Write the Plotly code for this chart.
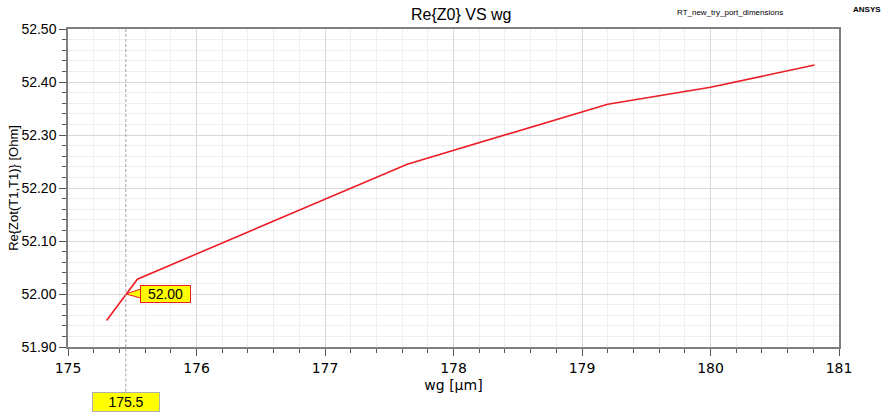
import plotly.graph_objects as go

wg = [175.30, 175.45, 175.54, 177.64, 179.20, 180.00, 180.81]
re_z0 = [51.950, 52.000, 52.028, 52.245, 52.358, 52.390, 52.432]

cursor_x = 175.45
cursor_y = 52.00

fig = go.Figure()
fig.add_trace(go.Scatter(x=wg, y=re_z0, mode="lines",
                         line=dict(color="#ee1c24", width=1.6),
                         hoverinfo="skip", showlegend=False))

# cursor vertical dashed line
fig.add_shape(type="line", xref="x", yref="paper", x0=cursor_x, x1=cursor_x,
              y0=0, y1=1, line=dict(color="#a0a0a0", width=1, dash="3px,2px"))
fig.add_shape(type="line", xref="x", yref="paper", x0=cursor_x, x1=cursor_x,
              y0=-0.14, y1=0, line=dict(color="#a0a0a0", width=1, dash="3px,2px"))

# callout pointer
fig.add_shape(type="path", xref="x", yref="y", xsizemode="pixel", ysizemode="pixel",
              xanchor=cursor_x, yanchor=cursor_y,
              path="M0,0 L15,5 L15,-4 Z",
              fillcolor="#ffff00", line=dict(color="#ee1c24", width=1), layer="above")

font_main = "Liberation Sans, Arial, sans-serif"

fig.add_annotation(x=cursor_x, y=cursor_y, xref="x", yref="y",
                   text="52.00", showarrow=False, xshift=14,
                   width=49, height=16,
                   bgcolor="#ffff00", bordercolor="#ee1c24", borderwidth=1,
                   borderpad=0, font=dict(family=font_main, size=14, color="#000"),
                   xanchor="left", yanchor="middle")

fig.add_annotation(x=cursor_x, y=-0.14, xref="x", yref="paper",
                   text="175.5", showarrow=False, width=64, height=16,
                   bgcolor="#ffff00", bordercolor="#b0b0b0", borderwidth=1,
                   borderpad=1, font=dict(family=font_main, size=14, color="#000"),
                   yanchor="top", xanchor="center")

fig.add_annotation(x=0.51, y=1.0, xref="paper", yref="paper", yanchor="bottom",
                   yshift=4, text="Re{Z0} VS wg", showarrow=False,
                   font=dict(family=font_main, size=16, color="#000"))
fig.add_annotation(x=0.93, y=1.0, xref="paper", yref="paper", yanchor="bottom",
                   yshift=10, text="RT_new_try_port_dimensions", showarrow=False,
                   font=dict(family=font_main, size=8, color="#000"))
fig.add_annotation(x=1.015, y=1.0, xref="paper", yref="paper", yanchor="bottom",
                   xanchor="left", yshift=13, text="<b>ANSYS</b>", showarrow=False,
                   font=dict(family=font_main, size=8, color="#000"))

fig.update_layout(
    width=888, height=416,
    margin=dict(l=68, r=49, t=29, b=69),
    paper_bgcolor="white", plot_bgcolor="white",
    font=dict(family=font_main, size=14, color="#000"),
    xaxis=dict(range=[175, 181], tickmode="linear", tick0=175, dtick=1,
               automargin=False,
               showgrid=True, gridcolor="#d8d8d8", gridwidth=1,
               minor=dict(dtick=0.2, showgrid=True, gridcolor="#efefef",
                          ticks="outside", ticklen=4, tickcolor="#555"),
               ticks="outside", ticklen=7, tickcolor="#555",
               showline=True, linecolor="#808080", mirror=True, linewidth=1.5,
               zeroline=False,
               tickfont=dict(family="DejaVu Sans, sans-serif", size=14),
               title=dict(text="wg [µm]", standoff=6,
                          font=dict(family="DejaVu Sans, sans-serif", size=14))),
    yaxis=dict(range=[51.90, 52.50], tickmode="linear", tick0=51.9, dtick=0.1,
               tickformat=".2f", automargin=False,
               showgrid=True, gridcolor="#d8d8d8", gridwidth=1,
               minor=dict(dtick=0.02, showgrid=True, gridcolor="#efefef",
                          ticks="outside", ticklen=4, tickcolor="#555"),
               ticks="outside", ticklen=7, tickcolor="#555",
               showline=True, linecolor="#808080", mirror=True, linewidth=1.5,
               zeroline=False,
               tickfont=dict(family=font_main, size=14),
               title=dict(text="Re{Zot(T1,T1)} [Ohm]", standoff=0,
                          font=dict(family=font_main, size=13))),
)

fig.write_html("out.html")
